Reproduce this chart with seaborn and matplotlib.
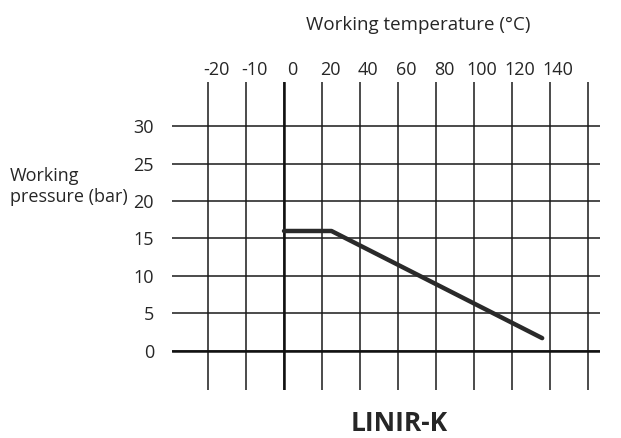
import numpy as np
import pandas as pd
import matplotlib
matplotlib.use("Agg")
import matplotlib.pyplot as plt
import matplotlib.transforms as mtransforms
import seaborn as sns

temp_ticks = [-20, -10, 0, 20, 40, 60, 80, 100, 120, 140, 160]
temp_labels = ["-20", "-10", "0", "20", "40", "60", "80", "100", "120", "140", ""]
pressure_ticks = [0, 5, 10, 15, 20, 25, 30]
curve_temp = [0, 25, 136]
curve_pressure = [16, 16, 1.7]


# echelle non lineaire : 10 degres par case sous zero, 20 au-dessus
def fwd(t):
    t = np.asarray(t, dtype=float)
    return np.where(t < 0, t / 10.0, t / 20.0)


def inv(p):
    p = np.asarray(p, dtype=float)
    return np.where(p < 0, p * 10.0, p * 20.0)


def main():
    sns.set_style("white")
    plt.rcParams["font.family"] = ["Open Sans", "DejaVu Sans"]

    fig = plt.figure(figsize=(6.21, 4.38), dpi=100)
    ax = fig.add_axes([0.277, 0.110, 0.689, 0.703])
    ax.set_xscale("function", functions=(fwd, inv))

    df = pd.DataFrame({"temp": curve_temp, "pressure": curve_pressure})
    sns.lineplot(data=df, x="temp", y="pressure", ax=ax, color="#2a2a2a",
                 linewidth=3.2, zorder=5)

    ax.set_xlim(-29.5, 166.4)
    ax.set_ylim(-5.2, 35.9)
    ax.set_xticks(temp_ticks)
    ax.set_xticklabels(temp_labels)
    ax.set_yticks(pressure_ticks)
    ax.set_yticklabels([str(v) for v in pressure_ticks])

    ax.grid(True, color="#1a1a1a", linewidth=1.1)
    ax.axhline(0, color="#111111", linewidth=1.8, zorder=4)
    ax.axvline(0, color="#111111", linewidth=1.8, zorder=4)

    ax.xaxis.tick_top()
    ax.tick_params(axis="x", length=0, pad=2, labelsize=13)
    ax.tick_params(axis="y", length=0, pad=13, labelsize=13)
    offset = mtransforms.ScaledTranslation(8 / 100, 0, fig.dpi_scale_trans)
    for lab in ax.get_xticklabels():
        lab.set_transform(lab.get_transform() + offset)

    for s in ax.spines.values():
        s.set_visible(False)
    ax.set_xlabel("")
    ax.set_ylabel("")

    fig.text(0.673, 0.942, "Working temperature (°C)", ha="center", va="center",
             fontsize=13.5)
    fig.text(0.016, 0.575, "Working\npressure (bar)", ha="left", va="center",
             fontsize=13, linespacing=1.2)
    fig.text(0.643, 0.032, "LINIR-K", ha="center", va="center",
             fontsize=19, fontweight="bold")

    fig.savefig("out.png", dpi=100)
    plt.close(fig)


if __name__ == "__main__":
    main()
